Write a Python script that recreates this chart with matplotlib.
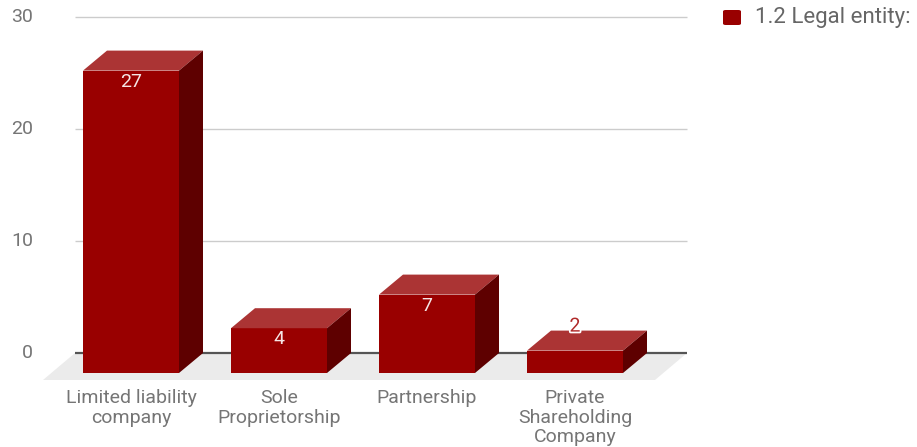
import matplotlib.pyplot as plt
import matplotlib.patheffects as pe
from matplotlib.patches import Polygon, FancyBboxPatch

plt.rcParams['font.family'] = ['Roboto', 'DejaVu Sans']

# 数据
categories = ['Limited liability\ncompany', 'Sole\nProprietorship', 'Partnership',
              'Private\nShareholding\nCompany']
values = [27, 4, 7, 2]
series_name = '1.2 Legal entity:'
yticks = [0, 10, 20, 30]

W, H = 917, 447
fig = plt.figure(figsize=(W / 100, H / 100), dpi=100)
ax = fig.add_axes([0, 0, 1, 1])
ax.axis('off')

# 像素 -> 数据坐标 (每类间隔148px, 每单位11.2px, 0线在y=353px)
step, unit, x0, y0 = 148.0, 11.2, 131.0, 353.0
ax.set_xlim(-x0 / step, (W - x0) / step)
ax.set_ylim((y0 - H) / unit, y0 / unit)

def px(x):
    return (x - x0) / step

w = 96 / step     # 正面宽度
dx = 24 / step    # 立体深度 (水平)
dy = 20 / unit    # 立体深度 (竖直)

front_c, top_c, side_c = '#990000', '#ab3434', '#5e0000'
text_c = '#757575'
fs = 14

# 地板
floor = Polygon([(px(75), 0), (px(687), 0), (px(655), -27 / unit), (px(43), -27 / unit)],
                closed=True, fc='#ebebeb', ec='none', zorder=1)
ax.add_patch(floor)

# 网格线和刻度
for t in yticks:
    if t == 0:
        ax.hlines(t, px(75), px(687), color='#555555', lw=1.6, zorder=2)
    else:
        ax.hlines(t, px(75), px(687), color='#cccccc', lw=1, zorder=2)
    ax.text(px(33), t, str(t), ha='right', va='center', fontsize=fs, color=text_c)

# 立体柱子
pos = list(range(len(values)))
ax.bar(pos, values, width=w, bottom=-dy, color=front_c, zorder=3)
for p, v in zip(pos, values):
    l, r = p - w / 2, p + w / 2
    ax.add_patch(Polygon([(l, v - dy), (r, v - dy), (r + dx, v), (l + dx, v)],
                         closed=True, fc=top_c, ec='none', zorder=3))
    ax.add_patch(Polygon([(r, -dy), (r + dx, 0), (r + dx, v), (r, v - dy)],
                         closed=True, fc=side_c, ec='none', zorder=3))
    if v * unit > 30:
        ax.text(p, v - dy - 11 / unit, str(v), ha='center', va='center',
                fontsize=fs, color='#f5e6e6', zorder=4)
    else:
        ax.text(p, v + 4 / unit, str(v), ha='center', va='center',
                fontsize=fs, color='#b02a2a', zorder=4,
                path_effects=[pe.withStroke(linewidth=2.5, foreground='white')])

# 分类标签
for p, c in zip(pos, categories):
    ax.text(p, (y0 - 389) / unit, c, ha='center', va='top', fontsize=fs,
            color=text_c, linespacing=1.12)

# 图例
fig.patches.append(FancyBboxPatch((723 / W, 1 - 25 / H), 18 / W, 15 / H,
                                  boxstyle='round,pad=0,rounding_size=0.003',
                                  transform=fig.transFigure, fc=front_c, ec='none'))
fig.text(755 / W, 1 - 17.5 / H, series_name, ha='left', va='center',
         fontsize=16, color='#666666')

fig.savefig('out.png', dpi=100)
